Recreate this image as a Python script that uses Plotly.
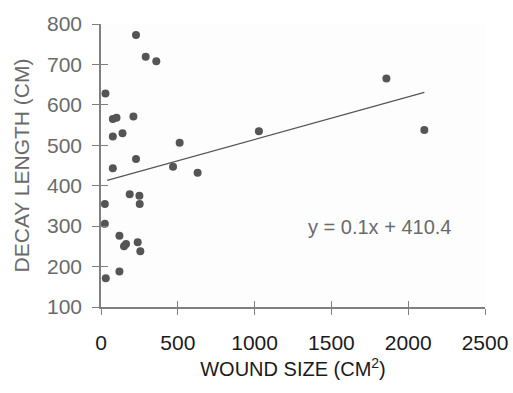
import plotly.graph_objects as go

# Data
wound_size = [29, 228, 291, 360, 77, 101, 211, 77, 140, 512, 228, 77, 469, 629,
              1028, 1858, 2105, 187, 250, 252, 25, 25, 120, 150, 163, 239, 256, 120, 31]
decay_length = [628, 773, 719, 708, 565, 568, 571, 522, 530, 506, 466, 443, 447, 432,
                535, 665, 538, 379, 375, 355, 355, 306, 276, 250, 256, 260, 238, 188, 171]

trend_x = [40, 2105]
trend_y = [413, 631]

x_ticks = [0, 500, 1000, 1500, 2000, 2500]
y_ticks = [100, 200, 300, 400, 500, 600, 700, 800]

equation_text = "y = 0.1x + 410.4"
equation_pos = (1815, 297)

FONT = "Liberation Sans, Arial, sans-serif"
GRAY = "#6a6a6a"
DARK = "#1a1a1a"
AXIS = "#808080"

fig = go.Figure()
fig.add_trace(go.Scatter(x=trend_x, y=trend_y, mode="lines",
                         line=dict(color="#555555", width=1.3), showlegend=False,
                         hoverinfo="skip"))
fig.add_trace(go.Scatter(x=wound_size, y=decay_length, mode="markers",
                         marker=dict(color="#555555", size=8), showlegend=False))
# invisible trace for overlay axes (inside ticks)
fig.add_trace(go.Scatter(x=[None], y=[None], xaxis="x2", yaxis="y2",
                         showlegend=False, hoverinfo="skip"))

fig.add_annotation(x=equation_pos[0], y=equation_pos[1], text=equation_text,
                   showarrow=False, font=dict(family=FONT, size=20, color=GRAY))

fig.update_layout(
    width=513, height=393,
    margin=dict(l=101, r=28, t=24, b=86),
    paper_bgcolor="white", plot_bgcolor="#fdfdfd",
    xaxis=dict(range=[0, 2500], tickvals=x_ticks, showgrid=False, zeroline=False,
               automargin=False,
               showline=True, linecolor=AXIS, linewidth=1.5,
               ticks="outside", ticklen=6, tickwidth=1.3, tickcolor=AXIS,
               ticklabelstandoff=10,
               tickfont=dict(family=FONT, size=21, color=DARK),
               title=dict(text="WOUND SIZE (CM<sup>2</sup>)", standoff=9,
                          font=dict(family=FONT, size=20, color=DARK))),
    yaxis=dict(range=[100, 800], tickvals=y_ticks, showgrid=False, zeroline=False,
               automargin=False,
               showline=True, linecolor=AXIS, linewidth=1.5,
               ticks="outside", ticklen=7, tickwidth=1.3, tickcolor=AXIS,
               ticklabelstandoff=6,
               tickfont=dict(family=FONT, size=21, color=GRAY),
               title=dict(text="DECAY LENGTH (CM)", standoff=12,
                          font=dict(family=FONT, size=21, color=GRAY))),
    xaxis2=dict(range=[0, 2500], tickvals=x_ticks, overlaying="x", anchor="y2",
                side="bottom", showgrid=False, zeroline=False, showline=False,
                automargin=False,
                ticks="inside", ticklen=6, tickwidth=1.3, tickcolor=AXIS,
                showticklabels=False),
    yaxis2=dict(range=[100, 800], tickvals=y_ticks, overlaying="y", anchor="x2",
                side="left", showgrid=False, zeroline=False, showline=False,
                automargin=False,
                ticks="inside", ticklen=7, tickwidth=1.3, tickcolor=AXIS,
                showticklabels=False),
)

fig.write_html(
    "out.html",
    config={"displayModeBar": False},
    post_script="document.body.style.margin='0';document.body.style.overflow='hidden';",
)
